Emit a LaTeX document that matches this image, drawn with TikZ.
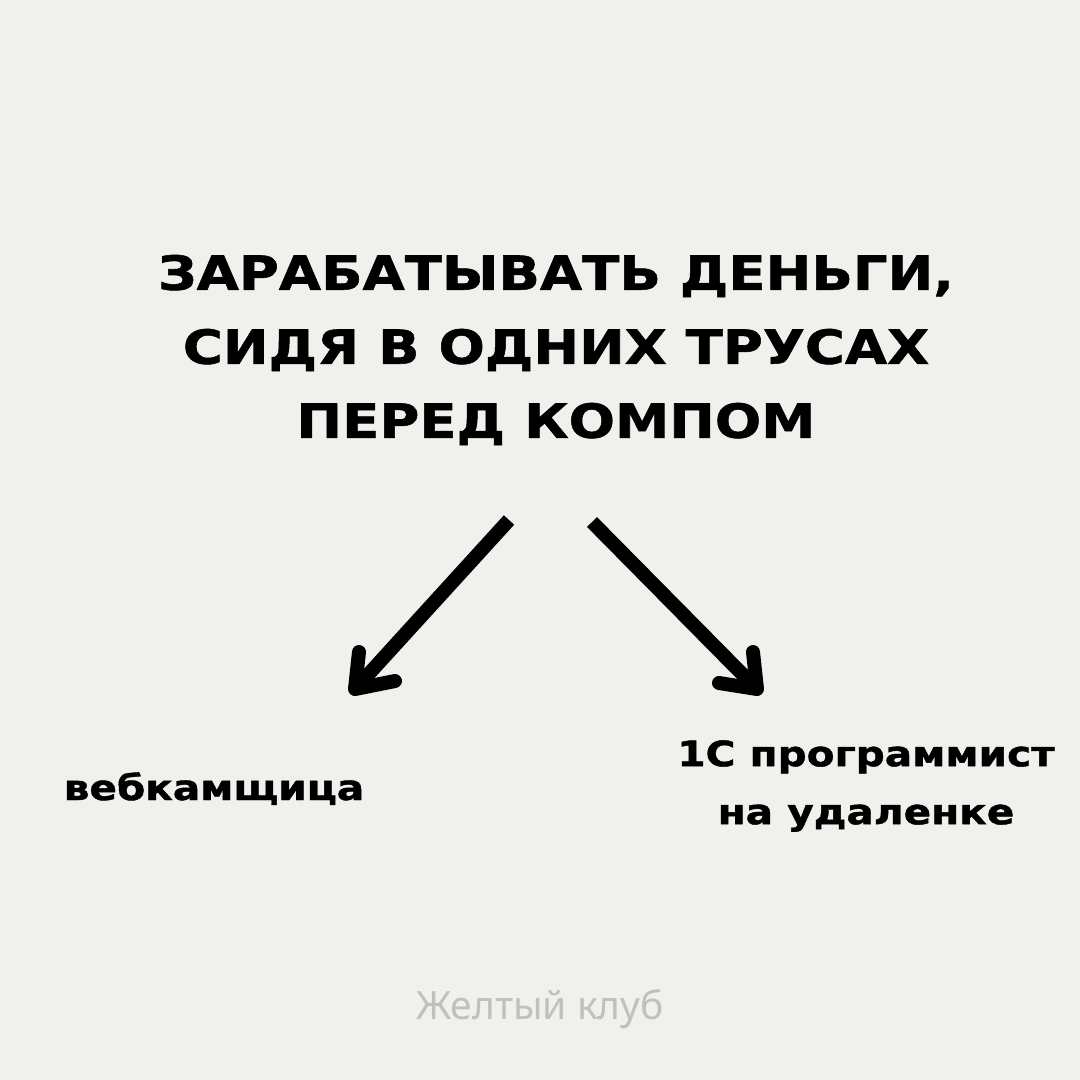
\documentclass[tikz,border=0pt]{standalone}
\usepackage{fontspec}
\setmainfont{DejaVu Sans}
\newfontfamily\widefont[FakeStretch=1.16,FakeBold=1.2]{DejaVu Sans}
\newfontfamily\footfont{Noto Sans}
\usetikzlibrary{calc}
\definecolor{bg}{RGB}{240,240,236}
\definecolor{footgray}{RGB}{192,192,192}
\tikzset{
  title/.style={font=\widefont\bfseries\fontsize{47}{74}\selectfont, align=center, inner sep=0pt},
  label/.style={font=\widefont\bfseries\fontsize{35}{58}\selectfont, align=center, inner sep=0pt},
  shaft/.style={line width=14pt, line cap=butt},
  head/.style={line width=14pt, line cap=round, line join=round},
}
\begin{document}
\begin{tikzpicture}[x=1pt,y=-1pt]
\fill[bg] (0,0) rectangle (1080,1080);
\useasboundingbox (0,0) rectangle (1080,1080);
\node[title] (t) at (556,350) {ЗАРАБАТЫВАТЬ ДЕНЬГИ,\\СИДЯ В ОДНИХ ТРУСАХ\\ПЕРЕД КОМПОМ};
\node[label, anchor=base] (l1) at (214,800) {вебкамщица};
\node[label] (l2) at (866,786) {1С программист\\на удаленке};
\node[font=\footfont\fontsize{39}{44}\selectfont, text=footgray, anchor=base] (f) at (540,1019) {Желтый клуб};
\coordinate (a1s) at (509,520);
\coordinate (a1e) at (355,689);
\coordinate (a2s) at (592,522);
\coordinate (a2e) at (757,689);
\draw[shaft] (a1s) -- (a1e);
\draw[head] (a1e) ++(4,-37) -- (a1e) -- ++(40,-8);
\draw[shaft] (a2s) -- (a2e);
\draw[head] (a2e) ++(-4,-37) -- (a2e) -- ++(-38,-6);
\end{tikzpicture}
\end{document}
